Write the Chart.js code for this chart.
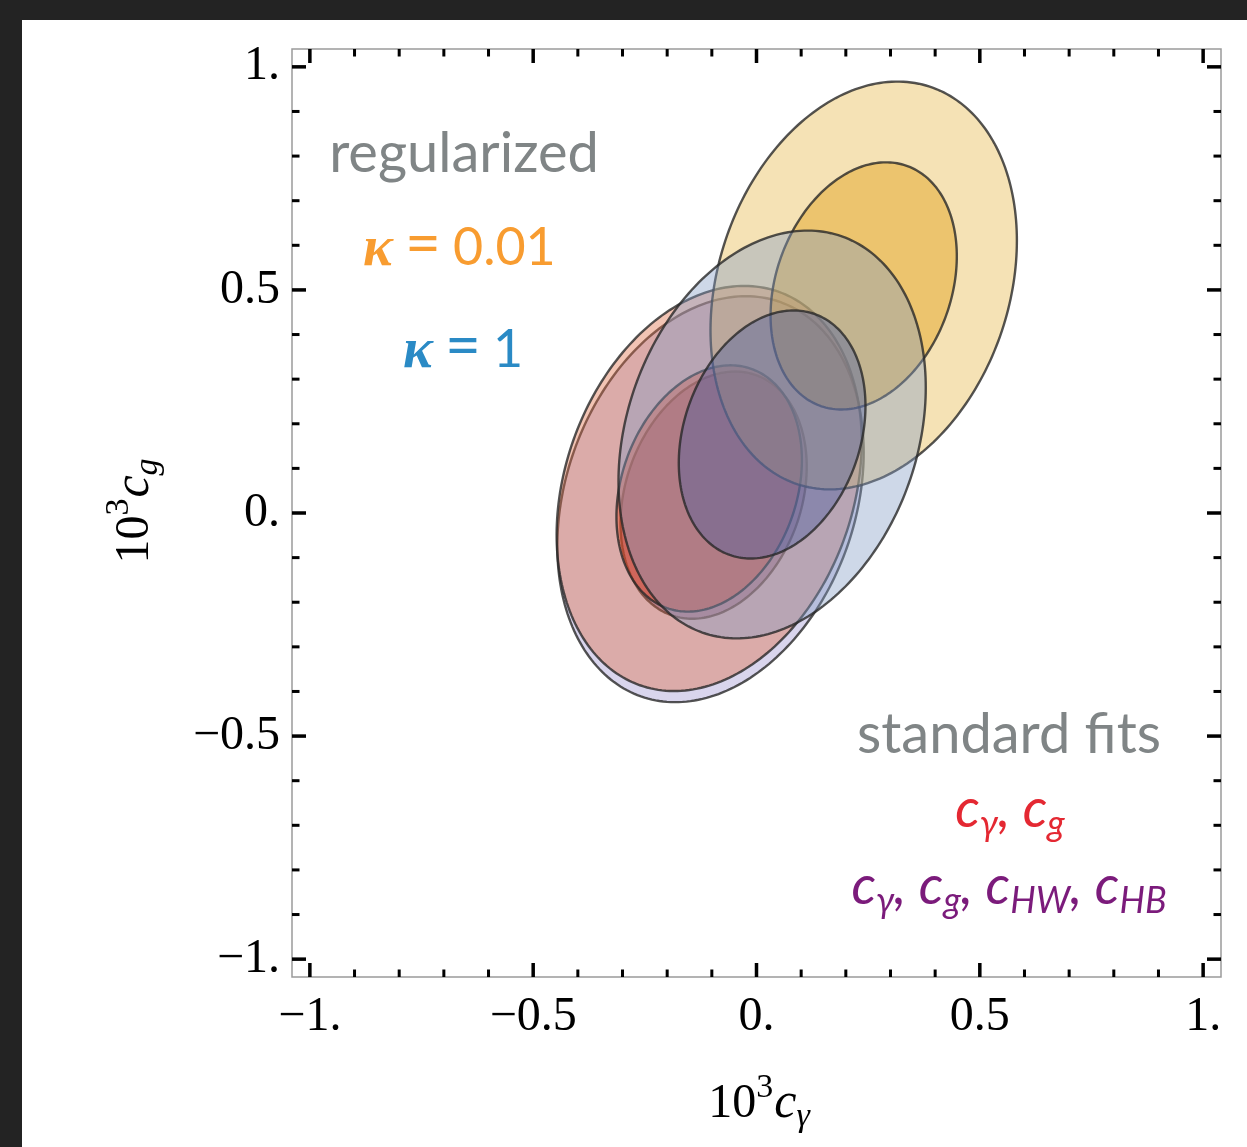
<!DOCTYPE html>
<html>
<head>
<meta charset="utf-8">
<script src="https://cdn.jsdelivr.net/npm/chart.js@4.4.1/dist/chart.umd.min.js"></script>
<style>
    html, body { margin: 0; padding: 0; background: #232323; }
    #panel { position: absolute; left: 22px; top: 20px; width: 1225px; height: 1127px; background: #ffffff; }
    canvas { display: block; }
</style>
</head>
<body>
<div id="panel"><canvas id="fit-chart" width="1225" height="1127"></canvas></div>
<script>
// --- Contours, drawn from bottom to top (68% and 95% CL of each fit) ---
const contourFit    = ['cγ, cg, cHW, cHB', 'cγ, cg, cHW, cHB', 'cγ, cg', 'cγ, cg', 'κ = 0.01', 'κ = 0.01', 'κ = 1', 'κ = 1'];
const contourLevel  = ['95%', '68%', '95%', '68%', '95%', '68%', '95%', '68%'];
const centerCgamma  = [-0.103, -0.096, -0.106, -0.106, 0.240, 0.240, 0.035, 0.035];
const centerCg      = [0.031, 0.040, 0.055, 0.055, 0.510, 0.509, 0.176, 0.176];
const halfCgamma    = [0.343, 0.2085, 0.3415, 0.2076, 0.343, 0.2085, 0.344, 0.209];
const halfCg        = [0.455, 0.277, 0.454, 0.276, 0.457, 0.277, 0.457, 0.278];
const correlation   = [0.23, 0.23, 0.23, 0.23, 0.22, 0.24, 0.23, 0.23];

// fill colours, same order as the contours
const fillColors = [
    'rgba(160, 150, 210, 0.4)', 'rgba(100, 40, 110, 0.4)',
    'rgba(222, 107, 67, 0.4)',  'rgba(232, 63, 23, 0.4)',
    'rgba(230, 182, 70, 0.4)',  'rgba(222, 153, 6, 0.4)',
    'rgba(132, 157, 197, 0.4)', 'rgba(75, 92, 160, 0.4)'
];
const edgeColor = 'rgba(40, 40, 40, 0.8)';

// --- Axes ---
const tickValues = [-1, -0.5, 0, 0.5, 1];
const tickLabels = ['\u22121.', '\u22120.5', '0.', '0.5', '1.'];
const axisMin = -1.04;
const axisMax = 1.04;

/**
 * Draws each contour as a filled ellipse through the chart scales.
 */
const ellipsePlugin = {
    id: 'ellipses',
    beforeDatasetsDraw(chart) {
        const { ctx, scales: { x, y } } = chart;
        ctx.save();
        for (let i = 0; i < centerCgamma.length; i++) {
            const rho = correlation[i];
            const s = Math.sqrt(1 - rho * rho);
            ctx.beginPath();
            for (let k = 0; k <= 240; k++) {
                const t = 2 * Math.PI * k / 240;
                const vx = centerCgamma[i] + halfCgamma[i] * Math.cos(t);
                const vy = centerCg[i] + halfCg[i] * (rho * Math.cos(t) + s * Math.sin(t));
                const px = x.getPixelForValue(vx);
                const py = y.getPixelForValue(vy);
                if (k === 0) ctx.moveTo(px, py); else ctx.lineTo(px, py);
            }
            ctx.closePath();
            ctx.fillStyle = fillColors[i];
            ctx.fill();
            ctx.strokeStyle = edgeColor;
            ctx.lineWidth = 2.4;
            ctx.stroke();
        }
        ctx.restore();
    }
};

// text made of pieces (sub/superscripts), centred on cx
function drawPieces(ctx, pieces, cx, baseline, color) {
    let total = 0;
    for (const p of pieces) {
        ctx.font = p.font;
        p.w = ctx.measureText(p.text).width;
        total += p.w + (p.gap || 0);
    }
    let xPos = cx - total / 2;
    ctx.fillStyle = color;
    ctx.textAlign = 'left';
    ctx.textBaseline = 'alphabetic';
    for (const p of pieces) {
        ctx.font = p.font;
        ctx.fillText(p.text, xPos, baseline + (p.dy || 0));
        xPos += p.w + (p.gap || 0);
    }
}

// pieces placed at their own x
function drawPlaced(ctx, pieces, baseline, color) {
    ctx.fillStyle = color;
    ctx.textAlign = 'left';
    ctx.textBaseline = 'alphabetic';
    for (const p of pieces) {
        ctx.font = p.font;
        ctx.fillText(p.text, p.x, baseline);
    }
}

/**
 * Frame with inward ticks on all four sides (Mathematica style), titles and annotations.
 */
const framePlugin = {
    id: 'frame',
    afterDraw(chart) {
        const { ctx, chartArea: a, scales: { x, y } } = chart;
        ctx.save();
        ctx.strokeStyle = '#9a9a9a';
        ctx.lineWidth = 1.5;
        ctx.strokeRect(a.left, a.top, a.right - a.left, a.bottom - a.top);

        ctx.fillStyle = '#000';
        for (let k = -10; k <= 10; k++) {
            const v = k / 10;
            const major = k % 5 === 0;
            const len = major ? 14 : 7.5;
            const th = major ? 3.5 : 3;
            const px = x.getPixelForValue(v);
            const py = y.getPixelForValue(v);
            ctx.fillRect(px - th / 2, a.bottom - len, th, len);
            ctx.fillRect(px - th / 2, a.top, th, len);
            ctx.fillRect(a.left, py - th / 2, len, th);
            ctx.fillRect(a.right - len, py - th / 2, len, th);
        }

        // axis titles
        const serif = 'Liberation Serif';
        drawPieces(ctx, [
            { text: '10', font: `48px ${serif}` },
            { text: '3', font: `34px ${serif}`, dy: -20, gap: 1 },
            { text: 'c', font: `italic 50px ${serif}` },
            { text: '\u03B3', font: `italic 34px ${serif}`, dy: 9 }
        ], 737, 1097, '#000');

        ctx.save();
        ctx.translate(126, 491);
        ctx.rotate(-Math.PI / 2);
        drawPieces(ctx, [
            { text: '10', font: `48px ${serif}` },
            { text: '3', font: `34px ${serif}`, dy: -20, gap: 1 },
            { text: 'c', font: `italic 50px ${serif}` },
            { text: 'g', font: `italic 34px ${serif}`, dy: 9 }
        ], 0, 0, '#000');
        ctx.restore();

        // annotations
        const sans = 'Lato';
        const gray = '#808586';
        drawPieces(ctx, [{ text: 'regularized', font: `56px ${sans}` }], 442, 152, gray);
        drawPlaced(ctx, [
            { text: '\u03BA', font: `bold italic 56px ${serif}`, x: 341 },
            { text: '=', font: `62px ${sans}`, x: 383 },
            { text: '0.01', font: `52px ${sans}`, x: 431 }
        ], 245, '#f89c30');
        drawPlaced(ctx, [
            { text: '\u03BA', font: `bold italic 56px ${serif}`, x: 381 },
            { text: '=', font: `62px ${sans}`, x: 423 },
            { text: '1', font: `52px ${sans}`, x: 471 }
        ], 347, '#2a8ac5');
        drawPieces(ctx, [{ text: 'standard fits', font: `56px ${sans}` }], 987, 733, gray);

        const it = `italic 54px ${sans}`;
        const sub = `italic 36px ${sans}`;
        drawPieces(ctx, [
            { text: 'c', font: it }, { text: '\u03B3', font: sub, dy: 9 },
            { text: ', ', font: it }, { text: 'c', font: it }, { text: 'g', font: sub, dy: 9 }
        ], 988, 807, '#e42832');
        drawPieces(ctx, [
            { text: 'c', font: it }, { text: '\u03B3', font: sub, dy: 9 },
            { text: ', ', font: it }, { text: 'c', font: it }, { text: 'g', font: sub, dy: 9 },
            { text: ', ', font: it }, { text: 'c', font: it }, { text: 'HW', font: sub, dy: 9 },
            { text: ', ', font: it }, { text: 'c', font: it }, { text: 'HB', font: sub, dy: 9 }
        ], 987, 884, '#7b1b7b');
        ctx.restore();
    }
};

function axisOptions(isX) {
    return {
        type: 'linear',
        min: axisMin,
        max: axisMax,
        afterBuildTicks: (scale) => { scale.ticks = tickValues.map(v => ({ value: v })); },
        afterFit: (scale) => {
            // fixed box sizes, and no extra room for edge labels
            if (isX) scale.height = 170; else scale.width = 270;
            scale.paddingTop = 0;
            scale.paddingBottom = 0;
            scale.paddingLeft = 0;
            scale.paddingRight = 0;
        },
        grid: { display: false, drawTicks: false },
        border: { display: false },
        ticks: {
            autoSkip: false,
            maxRotation: 0,
            padding: 12,
            color: '#000',
            font: { family: 'Liberation Serif', size: 48 },
            callback: (value) => tickLabels[tickValues.indexOf(value)]
        }
    };
}

const fitNames = [...new Set(contourFit)];
const centerDatasets = fitNames.map(name => {
    const i = contourFit.indexOf(name);
    return {
        label: name,
        data: [{ x: centerCgamma[i], y: centerCg[i] }],
        pointRadius: 0,
        showLine: false
    };
});

new Chart(document.getElementById('fit-chart'), {
    type: 'scatter',
    data: { datasets: centerDatasets },
    options: {
        responsive: false,
        animation: false,
        devicePixelRatio: 1,
        layout: { padding: { top: 29, right: 26, left: 0, bottom: 0 } },
        plugins: {
            legend: { display: false },
            tooltip: { enabled: true }
        },
        scales: {
            x: axisOptions(true),
            y: axisOptions(false)
        }
    },
    plugins: [ellipsePlugin, framePlugin]
});
</script>
</body>
</html>
